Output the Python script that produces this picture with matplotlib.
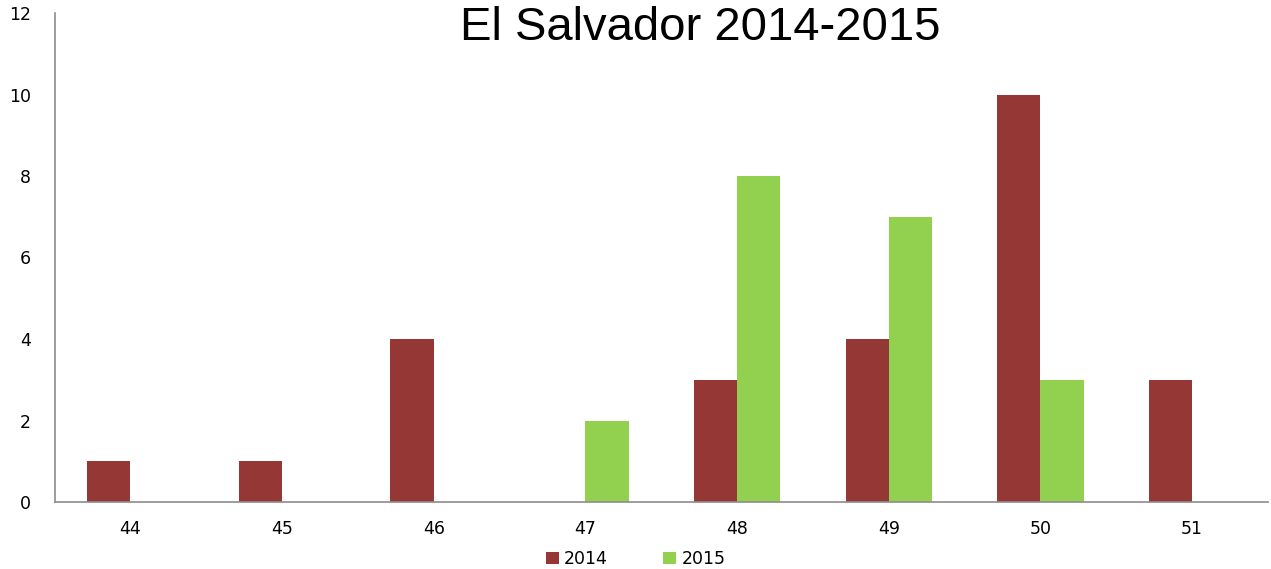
import numpy as np
import matplotlib.pyplot as plt

weeks = ['44', '45', '46', '47', '48', '49', '50', '51']
cases_2014 = [1, 1, 4, 0, 3, 4, 10, 3]
cases_2015 = [0, 0, 0, 2, 8, 7, 3, 0]

red = '#953735'
green = '#92D050'

fig = plt.figure(figsize=(12.71, 5.69), dpi=100)
ax = fig.add_axes([54.5/1271, 1 - 502/569, (1268 - 54.5)/1271, (502 - 13)/569])

x = np.arange(len(weeks))
w = 0.285
ax.bar(x - w/2, cases_2014, w, color=red, label='2014')
ax.bar(x + w/2, cases_2015, w, color=green, label='2015')

ax.set_xlim(-0.5, len(weeks) - 0.5)
ax.set_ylim(0, 12)
ax.set_yticks(range(0, 13, 2))
ax.set_xticks(x)
ax.set_xticklabels(weeks)
ax.tick_params(axis='both', length=0, labelsize=12.5, colors='black')
ax.tick_params(axis='y', pad=17)
ax.tick_params(axis='x', pad=13)
for s in ['top', 'right']:
    ax.spines[s].set_visible(False)
for s in ['left', 'bottom']:
    ax.spines[s].set_color('#8c8c8c')
    ax.spines[s].set_linewidth(1.2)

# title sits right at the top edge, as in the original
fig.text(0.551, 1 - 40/569, 'El Salvador 2014-2015', ha='center', va='baseline',
         fontsize=34, family='Liberation Sans')

fig.legend(loc='lower center', bbox_to_anchor=(0.5, -0.026), ncol=2, frameon=False,
           fontsize=12.5, handlelength=0.75, handleheight=0.75, handletextpad=0.3,
           columnspacing=3.2)

fig.savefig('out.png', dpi=100)
